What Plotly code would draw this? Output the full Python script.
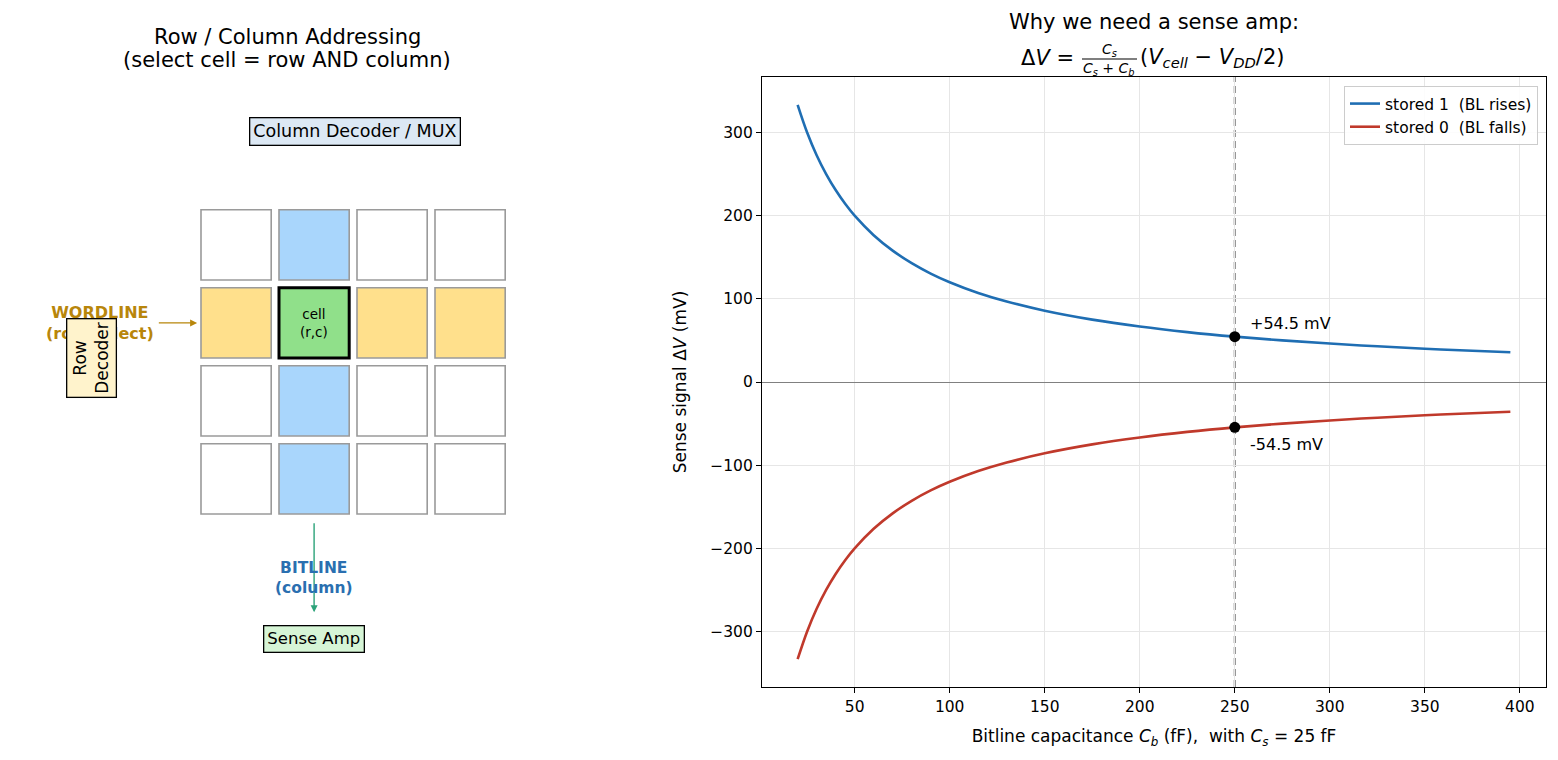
import plotly.graph_objects as go

W, H = 1558, 760

# ---------------- data ----------------
cb_fF = [20, 25, 30, 35, 40, 45, 50, 60, 70, 80, 90, 100, 115, 130, 150, 175,
         200, 225, 250, 275, 300, 325, 350, 375, 395]
dv_stored1 = [333.3, 300.0, 272.7, 250.0, 230.8, 214.3, 200.0, 176.5, 157.9, 142.9,
              130.4, 120.0, 107.1, 96.8, 85.7, 75.0, 66.7, 60.0, 54.5, 50.0,
              46.2, 42.9, 40.0, 37.5, 35.7]
dv_stored0 = [-333.3, -300.0, -272.7, -250.0, -230.8, -214.3, -200.0, -176.5, -157.9, -142.9,
              -130.4, -120.0, -107.1, -96.8, -85.7, -75.0, -66.7, -60.0, -54.5, -50.0,
              -46.2, -42.9, -40.0, -37.5, -35.7]
cb_marker = 250
dv_marker = [54.5, -54.5]
marker_labels = ["+54.5 mV", "-54.5 mV"]
x_ticks = [50, 100, 150, 200, 250, 300, 350, 400]
x_ticktext = ["50", "100", "150", "200", "250", "300", "350", "400"]
y_ticks = [-300, -200, -100, 0, 100, 200, 300]
y_ticktext = ["\u2212300", "\u2212200", "\u2212100", "0", "100", "200", "300"]

n_rows, n_cols = 4, 4
sel_row, sel_col = 1, 1

# ---------------- helpers (paper pixel coords) ----------------
def PX(px):
    return px / W

def PY(py):
    return 1 - py / H

FONT = "DejaVu Sans, Verdana, sans-serif"

fig = go.Figure()

fig.add_trace(go.Scatter(x=cb_fF, y=dv_stored1, mode="lines", name="stored 1  (BL rises)",
                         line=dict(color="#1f6eb3", width=2.6, shape="spline"),
                         xaxis="x", yaxis="y"))
fig.add_trace(go.Scatter(x=cb_fF, y=dv_stored0, mode="lines", name="stored 0  (BL falls)",
                         line=dict(color="#c0392b", width=2.6, shape="spline"),
                         xaxis="x", yaxis="y"))
fig.add_trace(go.Scatter(x=[cb_marker, cb_marker], y=dv_marker, mode="markers",
                         marker=dict(color="black", size=11), showlegend=False,
                         xaxis="x", yaxis="y"))
fig.add_trace(go.Scatter(x=[], y=[], xaxis="x2", yaxis="y2", showlegend=False))

shapes = []
annotations = []

# vertical dashed marker line
shapes.append(dict(type="line", xref="x", yref="y domain", x0=cb_marker, x1=cb_marker,
                   y0=0, y1=1, line=dict(color="#8a8a8a", width=2.2, dash="7px,4px"), layer="below"))

for v, t, ys in zip(dv_marker, marker_labels, [13, -17]):
    annotations.append(dict(x=cb_marker, y=v, xref="x", yref="y", text=t, showarrow=False,
                            xanchor="left", yanchor="middle", xshift=13, yshift=ys,
                            font=dict(size=16, color="black", family=FONT)))

# ---------------- left panel: grid diagram ----------------
C_BLUE = "#a9d6fc"
C_YEL = "#ffe08c"
C_GREEN = "#90e08a"
for r in range(n_rows):
    for c in range(n_cols):
        y0 = (n_rows - 1) - r
        if r == sel_row and c == sel_col:
            fill, lc, lw = C_GREEN, "black", 3
        elif r == sel_row:
            fill, lc, lw = C_YEL, "#9a9a9a", 1.6
        elif c == sel_col:
            fill, lc, lw = C_BLUE, "#9a9a9a", 1.6
        else:
            fill, lc, lw = "white", "#9a9a9a", 1.6
        shapes.append(dict(type="rect", xref="x2", yref="y2", x0=c, x1=c + 0.9,
                           y0=y0, y1=y0 + 0.9, fillcolor=fill,
                           line=dict(color=lc, width=lw), layer="above"))

cy_sel = (n_rows - 1) - sel_row + 0.45
cx_sel = sel_col + 0.45

def ann(**kw):
    kw.setdefault("xanchor", "center")
    kw.setdefault("yanchor", "middle")
    kw.setdefault("showarrow", False)
    annotations.append(kw)

ann(x=cx_sel, y=cy_sel, xref="x2", yref="y2", text="cell<br>(r,c)",
    font=dict(size=13.5, color="black", family=FONT))

# wordline label + arrow
ann(x=-1.29, y=cy_sel, xref="x2", yref="y2",
    text="<b>WORDLINE</b><br><b>(row select)</b>",
    font=dict(size=16, color="#b8860b", family=FONT))
annotations.append(dict(x=-0.05, y=cy_sel, ax=-0.56, ay=cy_sel, xref="x2", yref="y2",
                        axref="x2", ayref="y2", text="", showarrow=True, arrowhead=2,
                        arrowsize=1, arrowwidth=1.4, arrowcolor="#b8860b"))
# row decoder box (drawn over wordline text)
ann(x=-1.41, y=2.0, xref="x2", yref="y2", text="Row<br>Decoder",
    textangle=-90, bgcolor="#fff3cc", bordercolor="black", borderwidth=1.3, borderpad=3,
    font=dict(size=17, color="black", family=FONT))

# column decoder
ann(x=1.97, y=4.9, xref="x2", yref="y2", text="Column Decoder / MUX",
    bgcolor="#dce8f4", bordercolor="black", borderwidth=1.3, borderpad=3,
    font=dict(size=17.5, color="black", family=FONT))

# bitline arrow + label
annotations.append(dict(x=cx_sel, y=-1.26, ax=cx_sel, ay=-0.1, xref="x2", yref="y2",
                        axref="x2", ayref="y2", text="", showarrow=True, arrowhead=2,
                        arrowsize=1, arrowwidth=1.4, arrowcolor="#2ca37a"))
ann(x=cx_sel, y=-0.82, xref="x2", yref="y2",
    text="<b>BITLINE</b><br><b>(column)</b>",
    font=dict(size=15.5, color="#2a6fb0", family=FONT))
ann(x=cx_sel, y=-1.6, xref="x2", yref="y2", text="Sense Amp",
    bgcolor="#d6f5d6", bordercolor="black", borderwidth=1.3, borderpad=3,
    font=dict(size=16.5, color="black", family=FONT))

# ---------------- titles ----------------
ann(x=PX(287), y=PY(37), xref="paper", yref="paper", text="Row / Column Addressing",
    font=dict(size=21, color="black", family=FONT))
ann(x=PX(287), y=PY(60), xref="paper", yref="paper", text="(select cell = row AND column)",
    font=dict(size=21, color="black", family=FONT))
ann(x=PX(1154), y=PY(22), xref="paper", yref="paper", text="Why we need a sense amp:",
    font=dict(size=21, color="black", family=FONT))
# formula
ann(x=PX(1076), y=PY(58), xref="paper", yref="paper", text="\u0394<i>V</i> =",
    xanchor="right", font=dict(size=21, color="black", family=FONT))
ann(x=PX(1109), y=PY(50), xref="paper", yref="paper", text="<i>C<sub>s</sub></i>",
    font=dict(size=14, color="black", family=FONT))
ann(x=PX(1109), y=PY(69), xref="paper", yref="paper",
    text="<i>C<sub>s</sub></i> + <i>C<sub>b</sub></i>",
    font=dict(size=14, color="black", family=FONT))
shapes.append(dict(type="line", xref="paper", yref="paper", x0=PX(1082), x1=PX(1137),
                   y0=PY(59), y1=PY(59), line=dict(color="black", width=1.2)))
ann(x=PX(1138), y=PY(58), xref="paper", yref="paper",
    text="(<i>V<sub>cell</sub></i> \u2212 <i>V<sub>DD</sub></i>/2)",
    xanchor="left", font=dict(size=21, color="black", family=FONT))

fig.update_layout(
    width=W, height=H,
    margin=dict(l=0, r=0, t=0, b=0),
    paper_bgcolor="white", plot_bgcolor="white",
    font=dict(family=FONT, color="black"),
    showlegend=True,
    legend=dict(x=PX(1538), y=PY(86), xanchor="right", yanchor="top",
                bgcolor="rgba(255,255,255,0.85)", bordercolor="#cccccc", borderwidth=1,
                font=dict(size=15.5, family=FONT), tracegroupgap=0),
    xaxis=dict(domain=[PX(762), PX(1546)], range=[1.25, 413.75],
               tickvals=x_ticks, ticktext=x_ticktext, ticks="outside", ticklen=5,
               tickcolor="black", tickfont=dict(size=15.5),
               showline=True, linecolor="black", linewidth=1.2, mirror=True,
               showgrid=True, gridcolor="#e6e6e6", gridwidth=1, zeroline=False,
               title=dict(text="Bitline capacitance <i>C<sub>b</sub></i> (fF),  with <i>C<sub>s</sub></i> = 25 fF",
                          font=dict(size=17), standoff=15),
               anchor="y"),
    yaxis=dict(domain=[PY(687), PY(77)], range=[-366.7, 366.7],
               tickvals=y_ticks, ticktext=y_ticktext, ticks="outside", ticklen=5,
               tickcolor="black", tickfont=dict(size=15.5),
               showline=True, linecolor="black", linewidth=1.2, mirror=True,
               showgrid=True, gridcolor="#e6e6e6", gridwidth=1,
               zeroline=True, zerolinecolor="#808080", zerolinewidth=1.4,
               title=dict(text="Sense signal \u0394<i>V</i> (mV)", font=dict(size=17), standoff=19),
               anchor="x"),
    xaxis2=dict(domain=[0, PX(620)], range=[(0 - 201) / 78, (620 - 201) / 78],
                visible=False, fixedrange=True, anchor="y2"),
    yaxis2=dict(domain=[0, 1], range=[(514 - 760) / 78, (514 - 0) / 78],
                visible=False, fixedrange=True, anchor="x2"),
    shapes=shapes,
    annotations=annotations,
)

fig.write_html("out.html")
